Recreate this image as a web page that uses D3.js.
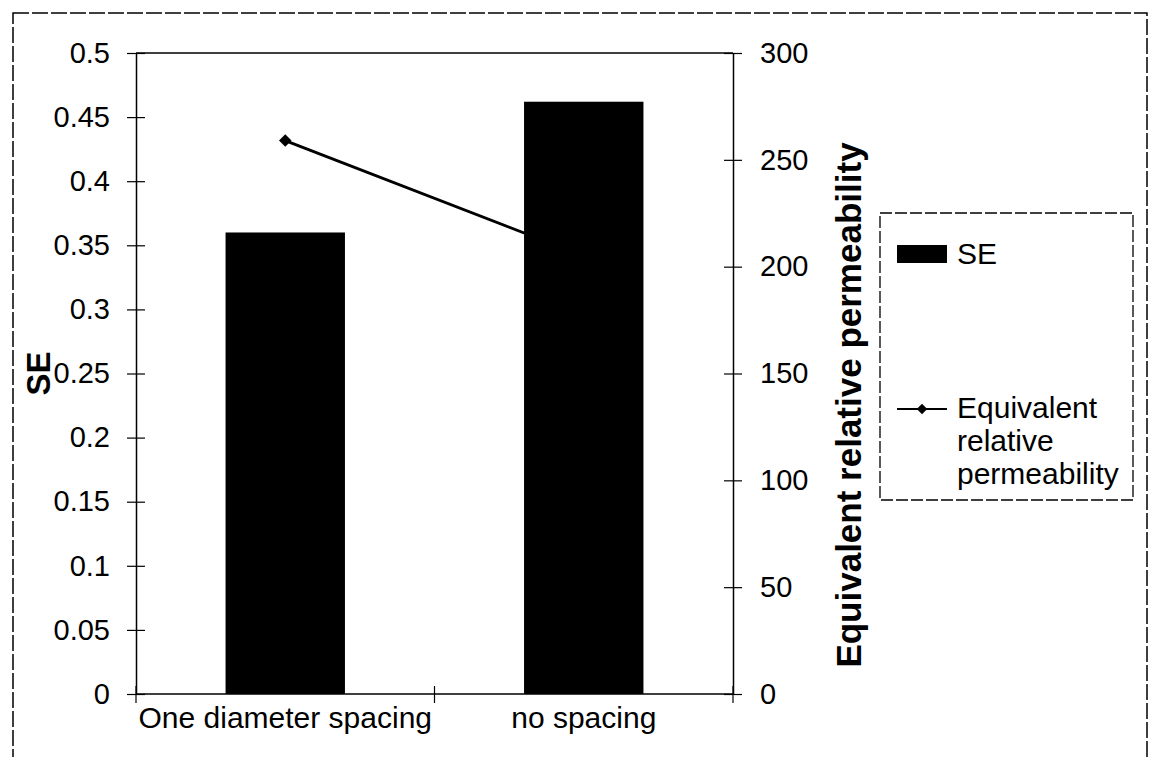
<!DOCTYPE html>
<html>
<head>
<meta charset="utf-8">
<script src="https://cdn.jsdelivr.net/npm/d3@7"></script>
<style>
  body { margin: 0; background: #fff; }
  svg text { font-family: "Liberation Sans", Arial, sans-serif; fill: #000; }
</style>
</head>
<body>
<svg id="chart" width="1149" height="757"></svg>
<script>
// data
let categories = ["One diameter spacing", "no spacing"]
let seValues = [0.36, 0.462]
let permValues = [259, 205]
let leftTicks = [0, 0.05, 0.1, 0.15, 0.2, 0.25, 0.3, 0.35, 0.4, 0.45, 0.5]
let rightTicks = [0, 50, 100, 150, 200, 250, 300]

let svg = d3.select("#chart")
let plot = { left: 136, right: 733, top: 53, bottom: 694 }

// outer chart border (scanned, looks broken)
svg.append("rect")
    .attr("x", 13).attr("y", 13)
    .attr("width", 1134).attr("height", 800)
    .style("fill", "none")
    .style("stroke", "#000")
    .style("stroke-width", 1.5)
    .style("stroke-dasharray", "16,3")

let x = d3.scaleBand()
    .domain(categories)
    .range([plot.left, plot.right])
    .paddingInner(0.6)
    .paddingOuter(0.3)

let xEdge = d3.scaleBand()
    .domain(categories)
    .range([plot.left, plot.right])

let yLeft = d3.scaleLinear().domain([0, 0.5]).range([plot.bottom, plot.top])
let yRight = d3.scaleLinear().domain([0, 300]).range([plot.bottom, plot.top])

// plot area top edge
svg.append("line")
    .attr("x1", plot.left).attr("x2", plot.right)
    .attr("y1", plot.top).attr("y2", plot.top)
    .style("stroke", "#000").style("stroke-width", 1.5)

// bars
svg.append("g")
    .selectAll("rect")
    .data(seValues)
    .join("rect")
    .attr("x", (d, i) => x(categories[i]))
    .attr("width", x.bandwidth())
    .attr("y", d => yLeft(d))
    .attr("height", d => yLeft(0) - yLeft(d))
    .style("fill", "#000")

// line series
let line = d3.line()
    .x((d, i) => x(categories[i]) + x.bandwidth() / 2)
    .y(d => yRight(d))

svg.append("path")
    .datum(permValues)
    .attr("d", line)
    .style("fill", "none")
    .style("stroke", "#000")
    .style("stroke-width", 2.8)

svg.append("g")
    .selectAll("path")
    .data(permValues)
    .join("path")
    .attr("d", d3.symbol(d3.symbolDiamond2, 100))
    .attr("transform", (d, i) => `translate(${x(categories[i]) + x.bandwidth() / 2},${yRight(d)})`)
    .style("fill", "#000")

function crossTicks(g) {
    g.select(".domain").style("stroke", "#000").style("stroke-width", 1.5)
    g.selectAll(".tick line").attr("x1", -9).attr("x2", 9)
        .style("stroke", "#000").style("stroke-width", 1.2)
    g.selectAll(".tick text").style("font-size", "29px")
}

let leftAxis = d3.axisLeft(yLeft)
    .tickValues(leftTicks)
    .tickFormat(d => String(+d.toFixed(2)))
    .tickSize(0)
    .tickSizeOuter(0)
    .tickPadding(26)

svg.append("g")
    .attr("transform", `translate(${plot.left},0)`)
    .call(leftAxis)
    .call(crossTicks)

let rightAxis = d3.axisRight(yRight)
    .tickValues(rightTicks)
    .tickSize(0)
    .tickSizeOuter(0)
    .tickPadding(27)

svg.append("g")
    .attr("transform", `translate(${plot.right},0)`)
    .call(rightAxis)
    .call(crossTicks)

// category axis: ticks sit on the band edges, labels at the centres
let bottomAxis = d3.axisBottom(x)
    .tickSize(0)
    .tickSizeOuter(0)
    .tickPadding(13)

let bottomG = svg.append("g")
    .attr("transform", `translate(0,${plot.bottom})`)
    .call(bottomAxis)
bottomG.select(".domain").attr("d", `M${plot.left},0H${plot.right}`)
    .style("stroke", "#000").style("stroke-width", 1.5)
bottomG.selectAll(".tick line").remove()
bottomG.selectAll(".tick text").style("font-size", "30px")

bottomG.selectAll(".edge")
    .data(categories.map(c => xEdge(c)).concat([plot.right]))
    .join("line")
    .attr("x1", d => d).attr("x2", d => d)
    .attr("y1", -8).attr("y2", 9)
    .style("stroke", "#000").style("stroke-width", 1.2)

// axis titles
svg.append("text")
    .attr("transform", `translate(50,${(plot.top + plot.bottom) / 2}) rotate(-90)`)
    .attr("text-anchor", "middle")
    .style("font-size", "33px")
    .style("font-weight", "bold")
    .text("SE")

svg.append("text")
    .attr("transform", `translate(861,405) rotate(-90)`)
    .attr("text-anchor", "middle")
    .style("font-size", "35px")
    .style("font-weight", "bold")
    .text("Equivalent relative permeability")

// legend
let legend = svg.append("g")
legend.append("rect")
    .attr("x", 880).attr("y", 213)
    .attr("width", 253).attr("height", 287)
    .style("fill", "#fff")
    .style("stroke", "#000")
    .style("stroke-width", 1.3)
    .style("stroke-dasharray", "12,3")

legend.append("rect")
    .attr("x", 897).attr("y", 245)
    .attr("width", 50).attr("height", 18)
    .style("fill", "#000")
legend.append("text")
    .attr("x", 957).attr("y", 264)
    .style("font-size", "30px")
    .text("SE")

legend.append("line")
    .attr("x1", 897).attr("x2", 947)
    .attr("y1", 409).attr("y2", 409)
    .style("stroke", "#000").style("stroke-width", 2)
legend.append("path")
    .attr("d", d3.symbol(d3.symbolDiamond2, 70))
    .attr("transform", "translate(922,409)")
    .style("fill", "#000")

let legendLines = ["Equivalent", "relative", "permeability"]
legend.append("text")
    .style("font-size", "30px")
    .selectAll("tspan")
    .data(legendLines)
    .join("tspan")
    .attr("x", 957)
    .attr("y", (d, i) => 418 + i * 33)
    .text(d => d)
</script>
</body>
</html>
